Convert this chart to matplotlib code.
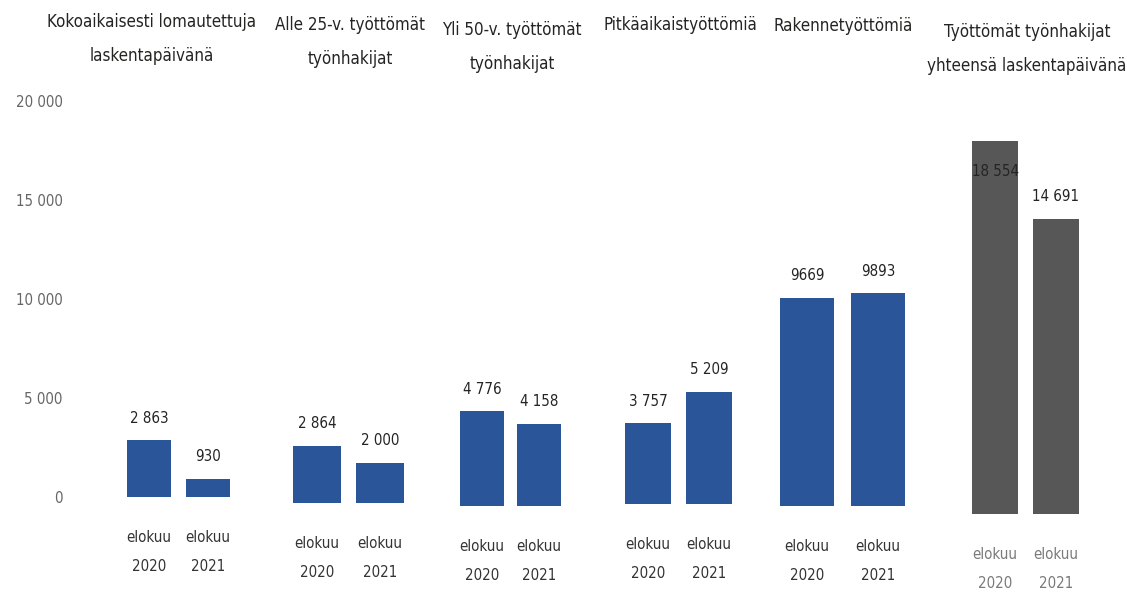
import matplotlib.pyplot as plt

plt.rcParams['font.family'] = ['DejaVu Sans']
plt.rcParams['font.stretch'] = 'condensed'

titles = ['Kokoaikaisesti lomautettuja\nlaskentapäivänä',
          'Alle 25-v. työttömät\ntyönhakijat',
          'Yli 50-v. työttömät\ntyönhakijat',
          'Pitkäaikaistyöttömiä',
          'Rakennetyöttömiä',
          'Työttömät työnhakijat\nyhteensä laskentapäivänä']
periods = ['elokuu\n2020', 'elokuu\n2021']
values_2020 = [2863, 2864, 4776, 3757, 9669, 18554]
values_2021 = [930, 2000, 4158, 5209, 9893, 14691]
yticks = [0, 5000, 10000, 15000, 20000]

# layout of the separate panels, in pixels of the 1127x592 image
W, H = 1127, 592
center_px = [178.5, 348.5, 510.5, 678.5, 842.5, 1025.5]
sep_px = [59, 63, 57, 61, 71, 61]
base_px = [497, 503, 506, 504, 506, 514]
scale_px = [19.8, 19.9, 19.8, 21.5, 21.5, 20.1]   # px per 1000
title_x = [152, 350, 512, 680, 843, 1027]
title_top = [13, 16, 21, 16, 17, 23]

fmt = lambda v: f'{v:,}'.replace(',', ' ')

fig = plt.figure(figsize=(W / 100, H / 100), dpi=100)

for i in range(6):
    rect = [(center_px[i] - sep_px[i]) / W, 1 - base_px[i] / H,
            2 * sep_px[i] / W, 20 * scale_px[i] / H]
    ax = fig.add_axes(rect)
    last = i == 5
    color = '#575757' if last else '#2A5599'
    vals = [values_2020[i], values_2021[i]]
    ax.bar([0, 1], vals, width=0.76, color=color)
    ax.set_xlim(-0.5, 1.5)
    ax.set_ylim(0, 20000)
    for s in ax.spines.values():
        s.set_visible(False)
    ax.set_xticks([0, 1], periods)
    ax.tick_params(axis='x', length=0, pad=23.5, labelsize=10.8,
                   labelcolor='#7a7a7a' if last else '#333333')
    for lab in ax.get_xticklabels():
        lab.set_linespacing(2.2)
    if i == 0:
        ax.set_yticks(yticks, [fmt(t) for t in yticks])
        ax.tick_params(axis='y', length=0, pad=41, labelsize=10.8, labelcolor='#666666')
    else:
        ax.set_yticks([])
    ax.patch.set_alpha(0)
    for x, v in zip([0, 1], vals):
        inside = v > 18000
        ax.annotate(fmt(v) if i != 4 else str(v), (x, v),
                    xytext=(0, -22 if inside else 16), textcoords='offset points',
                    ha='center', va='center', fontsize=10.8, color='#252423')
    fig.text(title_x[i] / W, 1 - title_top[i] / H, titles[i], ha='center', va='top',
             fontsize=12.2, color='#252423', linespacing=2.15)

fig.savefig('out.png', dpi=100)
